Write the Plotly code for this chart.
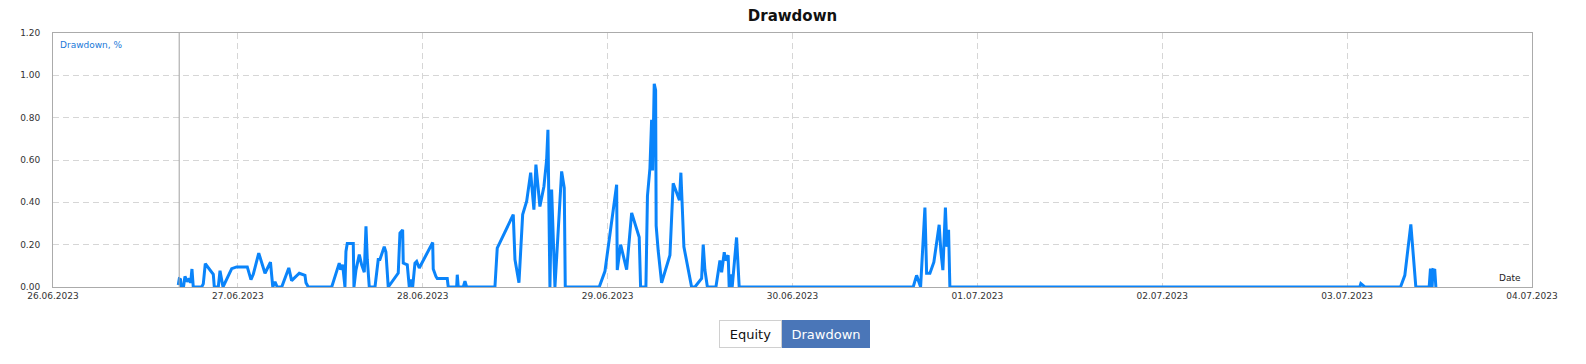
import pandas as pd
import plotly.graph_objects as go

# ---- data (hours since 26.06.2023 00:00, drawdown %) ----
hours = [
    16.26, 16.39, 16.55, 16.65, 16.94, 17.13, 17.43, 17.69, 17.87, 18.04, 18.21,
    19.30, 19.51, 19.77, 20.81, 20.94, 21.46, 21.68, 22.07, 23.20, 23.84, 25.22,
    25.70, 26.00, 26.71, 27.52, 28.23, 28.53, 28.82, 29.11, 29.69, 30.61, 30.98,
    31.97, 32.71, 32.84, 33.14, 36.18, 37.16, 37.34, 37.60, 37.90, 38.03, 38.20,
    38.98, 39.07, 39.33, 39.76, 40.07, 40.41, 40.63, 40.80, 41.06, 41.80, 42.22,
    42.44, 43.00, 43.22, 43.52, 44.82, 45.04, 45.39, 45.47, 45.99, 46.25, 46.43,
    46.69, 46.99, 47.21, 47.55, 49.29, 49.36, 49.71, 49.88, 51.18, 51.31, 52.40,
    52.48, 52.61, 53.26, 53.48, 53.70, 57.37, 57.67, 59.75, 59.97, 60.49, 60.97,
    61.49, 62.01, 62.43, 62.69, 63.21, 63.73, 64.08, 64.25, 64.51, 64.73, 65.16,
    66.03, 66.37, 66.50, 70.91, 71.65, 73.17, 73.25, 73.69, 74.47, 75.12, 76.10,
    76.28, 76.97, 77.17, 77.49, 77.71, 77.84, 78.05, 78.23, 78.30, 78.57, 79.01,
    80.09, 80.51, 81.32, 81.51, 81.90, 82.90, 83.33, 84.20, 84.41, 84.63, 84.95,
    86.06, 86.58, 86.80, 87.14, 87.32, 87.65, 87.78, 87.97, 88.17, 88.74, 89.08,
    111.67, 112.11, 112.63, 113.19, 113.41, 113.84, 114.35, 115.04, 115.26, 115.52,
    115.85, 116.04, 116.26, 116.43, 169.65, 169.78, 170.30, 174.93, 175.49, 176.27,
    176.92, 178.65, 178.82, 179.03, 179.16, 179.38, 179.52, 179.68,
]
drawdown = [
    0.01, 0.038, 0.035, 0.0, 0.0, 0.05, 0.025, 0.04, 0.02, 0.085, 0.0,
    0.0, 0.015, 0.11, 0.06, 0.0, 0.0, 0.077, 0.0, 0.087, 0.095, 0.095,
    0.035, 0.06, 0.16, 0.065, 0.117, 0.0, 0.025, 0.0, 0.0, 0.09, 0.03,
    0.065, 0.055, 0.02, 0.0, 0.0, 0.113, 0.082, 0.105, 0.0, 0.168, 0.205,
    0.205, 0.0, 0.08, 0.153, 0.105, 0.07, 0.287, 0.13, 0.0, 0.0, 0.13,
    0.13, 0.19, 0.165, 0.0, 0.066, 0.255, 0.27, 0.113, 0.105, 0.0, 0.035,
    0.0, 0.113, 0.121, 0.09, 0.21, 0.085, 0.05, 0.04, 0.04, 0.0, 0.0,
    0.058, 0.0, 0.0, 0.027, 0.0, 0.0, 0.184, 0.342, 0.13, 0.02, 0.342,
    0.405, 0.54, 0.365, 0.578, 0.38, 0.475, 0.6, 0.743, 0.0, 0.46, 0.0,
    0.546, 0.468, 0.0, 0.0, 0.074, 0.483, 0.08, 0.2, 0.082, 0.35, 0.235,
    0.0, 0.0, 0.43, 0.56, 0.79, 0.55, 0.96, 0.93, 0.29, 0.17, 0.02,
    0.15, 0.49, 0.41, 0.54, 0.19, 0.0, 0.0, 0.04, 0.2, 0.08, 0.0,
    0.0, 0.125, 0.07, 0.164, 0.125, 0.15, 0.0, 0.06, 0.0, 0.234, 0.0,
    0.0, 0.055, 0.0, 0.375, 0.065, 0.065, 0.117, 0.294, 0.17, 0.08,
    0.375, 0.19, 0.27, 0.0, 0.0, 0.016, 0.0, 0.0, 0.055, 0.296,
    0.0, 0.0, 0.087, 0.0, 0.082, 0.08, 0.0, 0.0,
]
start_date = "2023-06-26"
end_date = "2023-07-04"
account_start = "2023-06-26 16:23"
tick_dates = pd.date_range(start_date, end_date, freq="D")
tick_labels = [d.strftime("%d.%m.%Y") for d in tick_dates]
y_ticks = [0.0, 0.2, 0.4, 0.6, 0.8, 1.0, 1.2]

times = pd.Timestamp(start_date) + pd.to_timedelta(hours, unit="h")

FONT = "DejaVu Sans"
BLUE = "#0A84FA"

# page body has an 8px default margin; size the figure to fit inside the window
W, H = 1578, 356
ML, MR, MT, MB = 45, 54, 25, 77

fig = go.Figure()
fig.add_trace(go.Scatter(
    x=times, y=drawdown, mode="lines",
    line=dict(color=BLUE, width=3), hoverinfo="x+y", showlegend=False,
))

fig.add_shape(type="line", xref="x", yref="paper", x0=account_start, x1=account_start,
              y0=0, y1=1, line=dict(color="#a0a0a0", width=1))

fig.update_layout(
    width=W, height=H,
    margin=dict(l=ML, r=MR, t=MT, b=MB),
    paper_bgcolor="white", plot_bgcolor="white",
    title=dict(text="<b>Drawdown</b>", x=0.5, xanchor="center", xref="paper",
               y=1.0, yref="container", yanchor="top", pad=dict(t=2, b=0),
               font=dict(family=FONT, size=15, color="#111")),
    font=dict(family=FONT, size=9, color="#333"),
)
fig.update_xaxes(
    range=[start_date, end_date], tickvals=tick_dates, ticktext=tick_labels,
    showgrid=True, gridcolor="#d6d6d6", griddash="6px,4px", gridwidth=1,
    showline=True, linecolor="#ababab", linewidth=1, mirror=True,
    ticks="", zeroline=False, tickfont=dict(family=FONT, size=9, color="#333"),
)
fig.update_yaxes(
    range=[0, 1.2], tickvals=y_ticks, tickformat=".2f",
    showgrid=True, gridcolor="#d6d6d6", griddash="6px,4px", gridwidth=1,
    showline=True, linecolor="#ababab", linewidth=1, mirror=True,
    ticks="", zeroline=False, ticklabelstandoff=10,
    tickfont=dict(family=FONT, size=9, color="#333"),
)

fig.add_annotation(text="Drawdown, %", xref="paper", yref="paper", x=0, y=1,
                   xanchor="left", yanchor="top", xshift=5, yshift=-5, showarrow=False,
                   font=dict(family=FONT, size=9, color="#1a78d8"))
fig.add_annotation(text="Date", xref="paper", yref="paper", x=1, y=0,
                   xanchor="right", yanchor="bottom", xshift=-9, yshift=2, showarrow=False,
                   font=dict(family=FONT, size=9, color="#222"))

# toggle-style labels below the chart
fig.add_annotation(text="Equity", xref="paper", yref="paper", x=(750.5 - 53) / 1479,
                   y=(287.3 - 334) / 254, xanchor="center", yanchor="middle", showarrow=False,
                   width=61, height=26, borderpad=0, bgcolor="white", bordercolor="#d0d0d0",
                   borderwidth=1, font=dict(family=FONT, size=13, color="#111"))
fig.add_annotation(text="Drawdown", xref="paper", yref="paper", x=(826 - 53) / 1479,
                   y=(287.3 - 334) / 254, xanchor="center", yanchor="middle", showarrow=False,
                   width=86, height=26, borderpad=0, bgcolor="#4a76b8", bordercolor="#4a76b8",
                   borderwidth=1, font=dict(family=FONT, size=13, color="white"))

fig.write_html("out.html")
